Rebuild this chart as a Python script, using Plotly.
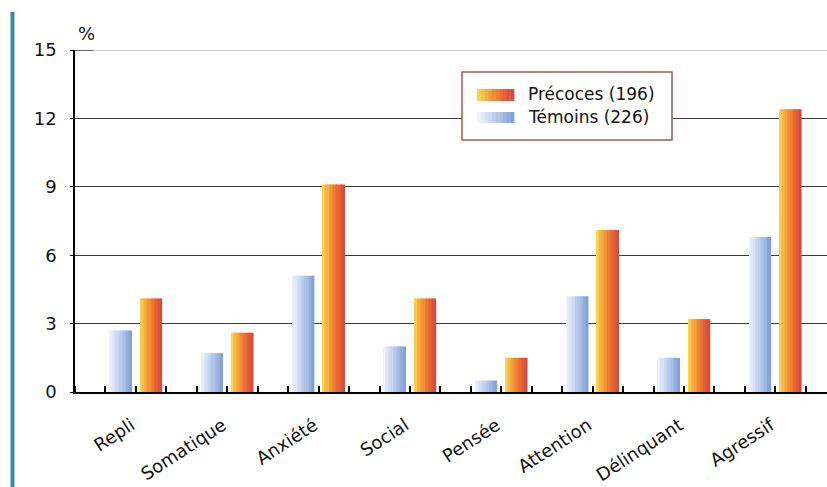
import plotly.graph_objects as go

# Data
categories = ["Repli", "Somatique", "Anxiété", "Social", "Pensée",
              "Attention", "Délinquant", "Agressif"]
temoins = [2.7, 1.7, 5.1, 2.0, 0.5, 4.2, 1.5, 6.8]
precoces = [4.1, 2.6, 9.1, 4.1, 1.5, 7.1, 3.2, 12.4]
y_ticks = [0, 3, 6, 9, 12, 15]
series_names = ["Précoces (196)", "Témoins (226)"]

# Horizontal colour ramps used to give the bars a rounded look
blue_ramp = [(238, 243, 251), (212, 224, 244), (186, 204, 236), (160, 184, 228), (132, 160, 216)]
orange_ramp = [(249, 210, 78), (246, 170, 60), (240, 132, 52), (230, 100, 50), (212, 76, 64)]

W, H = 827, 487
ML, MR, MT, MB = 75, 0, 50, 95
PW, PH = W - ML - MR, H - MT - MB

BAR_W = 0.72          # each category spans three slots: témoins, précoces, gap
N_STRIPS = 14
X_MAX = PW / 30.45


def ramp(colors, t):
    n = len(colors) - 1
    pos = t * n
    i = min(int(pos), n - 1)
    f = pos - i
    c = [round(colors[i][k] + (colors[i + 1][k] - colors[i][k]) * f) for k in range(3)]
    return "rgb({},{},{})".format(*c)


def px_x(p):
    return (p - ML) / PW


def px_y(p):
    return 1 - (p - MT) / PH


fig = go.Figure()

groups = [(temoins, blue_ramp, 1.5), (precoces, orange_ramp, 2.5)]
for values, colors, shift in groups:
    centers = [3 * i + shift for i in range(len(categories))]
    sw = BAR_W / N_STRIPS
    for k in range(N_STRIPS):
        off = -BAR_W / 2 + (k + 0.5) * sw
        fig.add_trace(go.Bar(
            x=[c + off for c in centers],
            y=values,
            width=sw * 1.08,
            marker=dict(color=ramp(colors, k / (N_STRIPS - 1)), line=dict(width=0)),
            showlegend=False,
            hoverinfo="skip",
        ))

fig.update_layout(
    width=W, height=H,
    margin=dict(l=ML, r=MR, t=MT, b=MB),
    paper_bgcolor="white", plot_bgcolor="white",
    barmode="overlay",
    font=dict(family="DejaVu Sans", color="#111111"),
    showlegend=False,
)

fig.update_xaxes(
    range=[0, X_MAX],
    tickvals=[3 * i + 1.85 for i in range(len(categories))],
    ticktext=categories,
    tickangle=-33,
    tickfont=dict(size=18, color="#111111"),
    ticks="", ticklabelstandoff=14,
    minor=dict(dtick=1, tick0=0, ticks="inside", ticklen=6, tickwidth=2, tickcolor="black"),
    showline=True, linecolor="black", linewidth=2,
    showgrid=False, zeroline=False,
)

fig.update_yaxes(
    range=[0, 15],
    tickvals=y_ticks,
    tickfont=dict(size=18, color="#111111"),
    ticks="outside", ticklen=3, tickwidth=1, tickcolor="black",
    ticklabelstandoff=10,
    showline=True, linecolor="black", linewidth=1.5,
    showgrid=True, gridcolor="#3a3a3a", gridwidth=1,
    zeroline=False,
)

# top rule at the upper end of the scale, lighter than the other grid lines
fig.add_shape(type="line", xref="paper", yref="y",
              x0=0, x1=1, y0=y_ticks[-1], y1=y_ticks[-1],
              line=dict(color="#9a9a9a", width=1), layer="below")
fig.add_shape(type="line", xref="paper", yref="y",
              x0=0, x1=px_x(93), y0=y_ticks[-1], y1=y_ticks[-1],
              line=dict(color="#222222", width=1.2), layer="above")

# unit label above the value axis
fig.add_annotation(x=0, y=1, xref="paper", yref="paper", text="%",
                   showarrow=False, xanchor="left", yanchor="bottom",
                   xshift=1, yshift=4, font=dict(size=18, color="#111111"))

# teal rule along the left edge of the page
fig.add_shape(type="line", xref="paper", yref="paper",
              x0=px_x(12.5), x1=px_x(12.5), y0=px_y(12), y1=px_y(487),
              line=dict(color="#3b87a6", width=4), layer="above")

# legend box
fig.add_shape(type="rect", xref="paper", yref="paper",
              x0=px_x(462), x1=px_x(672), y0=px_y(140), y1=px_y(72),
              line=dict(color="#a35a4e", width=1.5), fillcolor="white", layer="above")

legend_rows = [(series_names[0], orange_ramp, 89, 101, 93.5),
               (series_names[1], blue_ramp, 112, 123, 117)]
for name, colors, top, bottom, mid in legend_rows:
    n = 10
    x0, x1 = 477, 514
    step = (x1 - x0) / n
    for k in range(n):
        fig.add_shape(type="rect", xref="paper", yref="paper",
                      x0=px_x(x0 + k * step), x1=px_x(x0 + (k + 1) * step + 0.4),
                      y0=px_y(bottom), y1=px_y(top),
                      line=dict(width=0), fillcolor=ramp(colors, k / (n - 1)),
                      layer="above")
    fig.add_annotation(x=px_x(526), y=px_y(mid), xref="paper", yref="paper",
                       text=name, showarrow=False, xanchor="left", yanchor="middle",
                       font=dict(size=17, color="#111111"))

fig.write_html("out.html")
